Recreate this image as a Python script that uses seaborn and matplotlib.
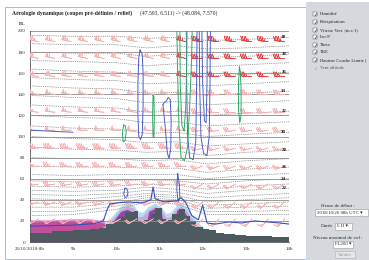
import numpy as np
import pandas as pd
import matplotlib
matplotlib.use("Agg")
import matplotlib.pyplot as plt
from matplotlib.patches import Rectangle
import seaborn as sns

# ---- data read off the section ----
# relief along the section (FL)
terrain_t = [8.0, 8.25, 8.5, 8.75, 9.0, 9.2, 9.4, 9.6, 9.75, 9.9, 10.05, 10.2, 10.4, 10.5, 10.65,
             10.8, 10.9, 11.05, 11.15, 11.3, 11.45, 11.6, 11.7, 11.85, 12.0, 12.15, 12.3, 12.5,
             12.75, 13.0, 13.3, 13.6, 14.0]
terrain_fl = [9, 9, 10, 10, 11, 11, 12, 13, 17, 20, 24, 28, 29, 20, 21,
              27, 32, 22, 21, 27, 31, 25, 20, 14, 12, 11, 9, 8,
              7, 6, 6, 5, 5]

# humidity (left band + arches over the relief)
hum_left_t = [8.0, 8.5, 9.0, 9.4, 9.7, 9.85]
hum_left_outer = [21, 21, 22, 22, 20, 15]
hum_left_inner = [19, 19.5, 20, 20, 18, 13]
hum_arch_t = [9.6, 9.8, 9.95, 10.1, 10.25, 10.4, 10.5, 10.6, 10.75, 10.9, 11.05, 11.15, 11.25,
              11.4, 11.5, 11.62, 11.75, 11.9, 12.05, 12.2]
hum_arch_outer = [14, 20, 27, 34, 37, 35, 29, 28, 34, 37, 33, 27, 28, 35, 37, 33, 26, 18, 13, 9]
hum_arch_mid = [12, 17, 24, 31, 34, 32, 24, 24, 31, 34, 30, 23, 24, 32, 34, 30, 22, 15, 11, 7]
hum_arch_core = [0, 0, 21, 29, 31, 28, 0, 0, 29, 32, 26, 0, 0, 30, 32, 26, 0, 0, 0, 0]

# boundary layer height
bl_t = [8.0, 8.5, 9.0, 9.5, 9.7, 9.78, 9.85, 10.0, 10.3, 10.6, 10.8, 10.85, 10.9, 11.1, 11.4,
        11.5, 11.6, 11.75, 11.9, 12.0, 12.1, 12.3, 12.6, 12.9, 13.2, 13.5, 13.8, 14.0]
bl_fl = [15, 15.5, 16, 17.5, 20, 30, 36, 37, 38, 37, 40, 52, 41, 38, 39,
         42, 38, 25, 21, 35, 18, 17, 19, 18, 20, 19, 18, 17]

# theta isolines, FL at these times
theta_t = [8, 9, 10, 10.7, 11.4, 12.1, 13, 14]
theta_vals = [40, 39, 38, 37, 36, 35, 34, 33, 32, 31, 30, 29, 28, 27, 26, 25, 24, 23, 22, 21, 20, 19, 18, 17, 16]
theta_fl = [
    [196, 195, 195, 193, 194, 191, 192, 194],
    [188, 187, 187, 184, 186, 183, 184, 186],
    [180, 179, 179, 176, 178, 175, 176, 178],
    [172, 171, 170, 167, 169, 166, 168, 170],
    [164, 162, 161, 158, 160, 157, 159, 161],
    [156, 154, 153, 150, 151, 148, 150, 152],
    [148, 146, 145, 141, 142, 139, 141, 143],
    [139, 137, 136, 132, 133, 130, 132, 134],
    [130, 128, 127, 123, 124, 120, 122, 124],
    [120, 118, 117, 113, 114, 110, 112, 114],
    [110, 108, 107, 103, 104, 100, 102, 104],
    [100, 98, 97, 94, 95, 91, 93, 95],
    [90, 88, 87, 85, 86, 82, 85, 87],
    [80, 79, 79, 77, 78, 74, 77, 79],
    [72, 71, 71, 70, 70, 66, 69, 71],
    [64, 63, 64, 64, 64, 60, 63, 65],
    [58, 57, 58, 59, 58, 55, 58, 60],
    [53, 52, 53, 55, 54, 50, 53, 55],
    [49, 48, 49, 52, 50, 46, 49, 51],
    [45, 44, 46, 49, 47, 42, 44, 46],
    [41, 40, 43, 46, 44, 38, 40, 42],
    [37, 36, 40, 44, 42, 35, 36, 38],
    [33, 33, 37, 42, 40, 32, 33, 34],
    [29, 29, 34, 40, 38, 29, 29, 30],
    [25, 26, 31, 38, 36, 26, 26, 26],
]

# vertical velocity contours (t, FL)
vv_blue = [
    ([8.0, 9.0], [106, 104]),
    ([10.55, 10.52, 10.50, 10.50, 10.52, 10.56, 10.60, 10.62, 10.62, 10.60, 10.55],
     [182, 175, 150, 120, 100, 97, 102, 130, 160, 178, 182]),
    ([11.08, 11.13, 11.18, 11.22, 11.26, 11.27, 11.25, 11.2, 11.15, 11.1, 11.08],
     [130, 110, 85, 79, 88, 115, 135, 137, 133, 132, 130]),
    ([11.62, 11.63, 11.65, 11.7, 11.78, 11.84, 11.86, 11.87], [205, 150, 100, 80, 78, 95, 150, 205]),
    ([11.92, 11.93, 11.96, 12.02, 12.1, 12.15, 12.17, 12.18], [205, 150, 100, 84, 82, 100, 150, 205]),
    ([11.98, 12.0, 12.04, 12.08, 12.1, 12.11], [205, 150, 115, 113, 150, 205]),
    ([10.2, 10.17, 10.2, 10.25, 10.27, 10.24, 10.2], [51, 46, 42, 43, 47, 51, 51]),
    ([11.42, 11.40, 11.43, 11.47, 11.46, 11.42], [65, 50, 38, 42, 55, 65]),
]
vv_green = [
    ([10.85, 10.84, 10.85, 10.87, 10.88, 10.87, 10.85], [139, 120, 100, 99, 118, 138, 139]),
    ([10.17, 10.14, 10.16, 10.2, 10.23, 10.21, 10.17], [111, 103, 95, 96, 104, 110, 111]),
    ([11.40, 11.42, 11.45, 11.5, 11.58, 11.65, 11.7, 11.74, 11.76], [205, 160, 110, 80, 77, 90, 130, 170, 205]),
    ([11.47, 11.48, 11.52, 11.57, 11.61, 11.63, 11.64], [205, 150, 110, 105, 130, 170, 205]),
    ([12.85, 12.83, 12.83, 12.86, 12.89, 12.89, 12.87, 12.85], [166, 150, 125, 113, 120, 145, 162, 166]),
]

# winds
barb_t = [8.2, 8.58, 8.96, 9.34, 9.72, 10.1, 10.48, 10.86, 11.24, 11.62, 12.0, 12.38, 12.76, 13.14, 13.52, 13.9]
barb_fl = [22, 38, 55, 72, 89, 106, 123, 140, 157, 174, 190]
speed_left = [20, 25, 30, 35, 45, 50, 55, 55, 60, 60, 65]
speed_right = [15, 20, 20, 25, 25, 30, 30, 35, 35, 40, 45]
dir_left = [240, 250, 260, 265, 270, 270, 275, 275, 275, 280, 280]
dir_right = [220, 230, 240, 250, 255, 260, 265, 270, 270, 270, 275]

x_labels = ["26/10/2018-8h", "9h", "10h", "11h", "12h", "13h", "14h"]

# ---- figure ----
sns.set_style("white")
plt.rcParams['font.family'] = ['Liberation Serif', 'DejaVu Sans']

W, H = 369, 260
fig = plt.figure(figsize=(W / 100, H / 100), dpi=100)
fig.patch.set_facecolor("white")

def fx(x):
    return x / W

def fy(y):
    return 1 - y / H

# page frame + right gray panel (behind the axes)
fig.patches.append(Rectangle((fx(5), fy(259)), fx(301), 252 / H, transform=fig.transFigure,
                             facecolor="white", edgecolor="#9fb0c8", lw=0.6, zorder=-2))
fig.patches.append(Rectangle((fx(306), 0), fx(63), fy(2), transform=fig.transFigure,
                             facecolor="#d5d9dd", edgecolor="none", zorder=-2))

ax = fig.add_axes([fx(30), fy(242), fx(259), 211 / H])
ax.set_facecolor("none")

# humidity
ax.fill_between(hum_left_t, 0, hum_left_outer, color="#d98cc8", lw=0, zorder=1)
ax.fill_between(hum_left_t, 0, hum_left_inner, color="#c0509c", lw=0, zorder=1.1)
ax.fill_between(hum_arch_t, 0, hum_arch_outer, color="#b3def0", lw=0, zorder=1)
ax.fill_between(hum_arch_t, 0, hum_arch_mid, color="#c9a6dc", lw=0, zorder=1.1)
ax.fill_between(hum_arch_t, 0, hum_arch_core, color="#8e48a8", lw=0, zorder=1.2)

# relief
ax.fill_between(terrain_t, 0, terrain_fl, step="post", color="#4d5b61", lw=0, zorder=2)

# grid lines
for lev in range(20, 201, 20):
    ax.axhline(lev, color="#8a8a8a", lw=0.6, zorder=2.5)

# theta isolines
for val, fl in zip(theta_vals, theta_fl):
    ax.plot(theta_t, fl, color="#8c8c8c", lw=0.55, ls=(0, (1.6, 1.2)), zorder=3)
    if val % 2 == 0 and val >= 22:
        ax.text(13.88, fl[-1], str(val), fontsize=3.6, color="#222222", ha="center",
                va="center", fontweight="bold", zorder=7)

# wind barbs
bt, bf = np.meshgrid(barb_t, barb_fl)
spd = np.where(bt >= 12.0, np.array(speed_right)[:, None], np.array(speed_left)[:, None])
dr = np.where(bt >= 12.0, np.array(dir_right)[:, None], np.array(dir_left)[:, None])
u = -spd * np.sin(np.deg2rad(dr))
v = -spd * np.cos(np.deg2rad(dr))
red = (bt >= 11.6) & (bf >= 157)
for mask, col in [(~red, "#f6b0b0"), (red, "#e84848")]:
    ax.barbs(bt[mask], bf[mask], u[mask], v[mask], length=3.8, linewidth=0.45,
             color=col, sizes=dict(emptybarb=0, spacing=0.16, height=0.45, width=0.3), zorder=4)

# vertical velocity contours
for t, fl in vv_blue:
    ax.plot(t, fl, color="#4a5fc8", lw=0.7, zorder=5)
for t, fl in vv_green:
    ax.plot(t, fl, color="#2ea86a", lw=0.7, zorder=5)

# boundary layer
bl = pd.DataFrame({"t": bl_t, "fl": bl_fl})
sns.lineplot(data=bl, x="t", y="fl", ax=ax, color="#3b4cc0", lw=0.8, sort=False,
             estimator=None, zorder=6)

ax.set_xlim(8, 14)
ax.set_ylim(0, 200)
ax.set_xticks(range(8, 15))
ax.set_xticklabels(x_labels)
ax.set_yticks(range(0, 201, 20))
ax.tick_params(axis="both", labelsize=3.6, length=2, width=0.5, pad=1.5, colors="#333333")
ax.set_xlabel("")
ax.set_ylabel("")
for s in ["top", "right"]:
    ax.spines[s].set_visible(False)
for s in ["left", "bottom"]:
    ax.spines[s].set_color("#555555")
    ax.spines[s].set_linewidth(0.6)

# title texts
fig.text(fx(12), fy(13), "Aérologie dynamique (coupes pré-définies / relief)", fontsize=4.1,
         fontweight="bold", va="center", ha="left")
fig.text(fx(140), fy(13), "(47.593, 6.511) -> (48.084, 7.570)", fontsize=4.1, va="center", ha="left")
fig.text(fx(19), fy(24), "FL", fontsize=3.8, fontweight="bold", va="center", ha="left")

# right panel: options
items = ["Humidité", "Précipitations", "Vitesse Vert. (m.s-1)", "Iso 0°", "Theta", "TKE",
         "Hauteur Couche Limite (", "Vent altitude"]
item_y = [14, 22, 30, 37, 45, 52, 60, 68]
for i, (txt, yy) in enumerate(zip(items, item_y)):
    if i < 7:
        fig.patches.append(Rectangle((fx(313), fy(yy + 2)), fx(4), 4 / H, transform=fig.transFigure,
                                     facecolor="white", edgecolor="#555555", lw=0.35))
        fig.text(fx(315), fy(yy), "✓", fontsize=3.6, family="DejaVu Sans", va="center",
                 ha="center", color="#111111")
    else:
        fig.text(fx(315), fy(yy), "✓", fontsize=3.6, family="DejaVu Sans", va="center",
                 ha="center", color="#999999")
    fig.text(fx(319.5), fy(yy), txt, fontsize=3.3, va="center", ha="left",
             color="#222222" if i < 7 else "#555555")

fig.text(fx(338), fy(206), "Heure de début :", fontsize=3.6, ha="center", va="center")
fig.patches.append(Rectangle((fx(315), fy(216)), fx(53), 7 / H, transform=fig.transFigure,
                             facecolor="white", edgecolor="#999999", lw=0.4))
fig.text(fx(317), fy(212.5), "2018/10/26 08h UTC ▾", fontsize=3.5, ha="left", va="center",
         family=["Liberation Serif", "DejaVu Sans"])
fig.text(fx(333), fy(226), "Durée", fontsize=3.6, ha="right", va="center")
fig.patches.append(Rectangle((fx(335), fy(229.5)), fx(17), 7 / H, transform=fig.transFigure,
                             facecolor="white", edgecolor="#999999", lw=0.4))
fig.text(fx(337), fy(226), "6 H ▾", fontsize=3.5, ha="left", va="center",
         family=["Liberation Serif", "DejaVu Sans"])
fig.text(fx(338), fy(238), "Niveau maximal de vol :", fontsize=3.6, ha="center", va="center")
fig.patches.append(Rectangle((fx(333), fy(247.5)), fx(20), 7 / H, transform=fig.transFigure,
                             facecolor="white", edgecolor="#999999", lw=0.4))
fig.text(fx(335), fy(244), "FL200 ▾", fontsize=3.5, ha="left", va="center",
         family=["Liberation Serif", "DejaVu Sans"])
fig.patches.append(Rectangle((fx(335), fy(258)), fx(20), 7 / H, transform=fig.transFigure,
                             facecolor="#e4e6e8", edgecolor="#b0b0b0", lw=0.4))
fig.text(fx(345), fy(254.5), "Valider", fontsize=3.5, ha="center", va="center", color="#999999")

fig.savefig("out.png", dpi=100)
